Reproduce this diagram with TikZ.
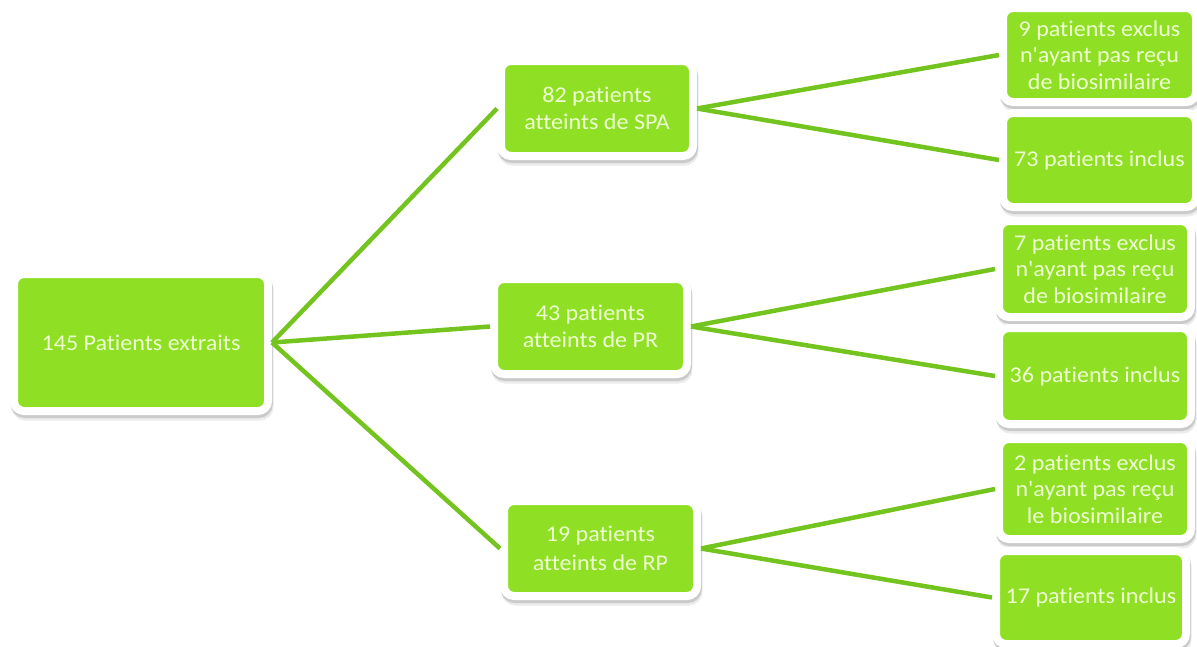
\documentclass[tikz,border=0pt]{standalone}
\usepackage{fontspec}
\newfontfamily\boxfont{Carlito}[FakeStretch=1.07, Ligatures=NoCommon]
\definecolor{boxgreen}{HTML}{8FE024}
\definecolor{linegreen}{HTML}{74C41F}
\definecolor{txtgreen}{HTML}{EEFFD2}
\tikzset{
  box/.style={rectangle, rounded corners=10pt, fill=boxgreen, draw=white, line width=8pt,
    text=txtgreen, align=center, inner sep=0pt, outer sep=4pt,
    font=\boxfont\fontsize{22.5}{26.5}\selectfont,
    preaction={draw=black, draw opacity=0.08, fill opacity=0, line width=8pt, transform canvas={xshift=1.5pt,yshift=-5.5pt}},
    preaction={draw=black, draw opacity=0.14, fill opacity=0, line width=8pt, transform canvas={xshift=0.8pt,yshift=-3pt}}},
  link/.style={draw=linegreen, line width=4.5pt}
}
\begin{document}
\begin{tikzpicture}[x=1pt,y=-1pt]
\useasboundingbox (0,0) rectangle (1197,646);
\node[box, minimum width=254pt, minimum height=137pt] (root) at (141,342.5) {145 Patients extraits};
\node[box, minimum width=192pt, minimum height=95pt] (spa) at (597,108.5) {82 patients\\atteints de SPA};
\node[box, minimum width=193pt, minimum height=95pt] (pr) at (590.5,326.5) {43 patients\\atteints de PR};
\node[box, minimum width=193pt, minimum height=95pt] (rp) at (600.5,548.5) {19 patients\\[3pt]atteints de RP};
\node[box, minimum width=193pt, minimum height=94pt] (e1) at (1099.5,55) {9 patients exclus\\n'ayant pas reçu\\de biosimilaire};
\node[box, minimum width=193pt, minimum height=94pt] (i1) at (1099.5,160) {73 patients inclus};
\node[box, minimum width=192pt, minimum height=96pt] (e2) at (1095,269) {7 patients exclus\\n'ayant pas reçu\\de biosimilaire};
\node[box, minimum width=192pt, minimum height=96pt] (i2) at (1095,376) {36 patients inclus};
\node[box, minimum width=192pt, minimum height=100pt] (e3) at (1095,489) {2 patients exclus\\n'ayant pas reçu\\le biosimilaire};
\node[box, minimum width=190pt, minimum height=93pt] (i3) at (1091,597.5) {17 patients inclus};
\draw[link] (root.east) -- (spa.west);
\draw[link] (root.east) -- (pr.west);
\draw[link] (root.east) -- (rp.west);
\draw[link] (spa.east) -- (e1.west);
\draw[link] (spa.east) -- (i1.west);
\draw[link] (pr.east) -- (e2.west);
\draw[link] (pr.east) -- (i2.west);
\draw[link] (rp.east) -- (e3.west);
\draw[link] (rp.east) -- (i3.west);
\end{tikzpicture}
\end{document}
